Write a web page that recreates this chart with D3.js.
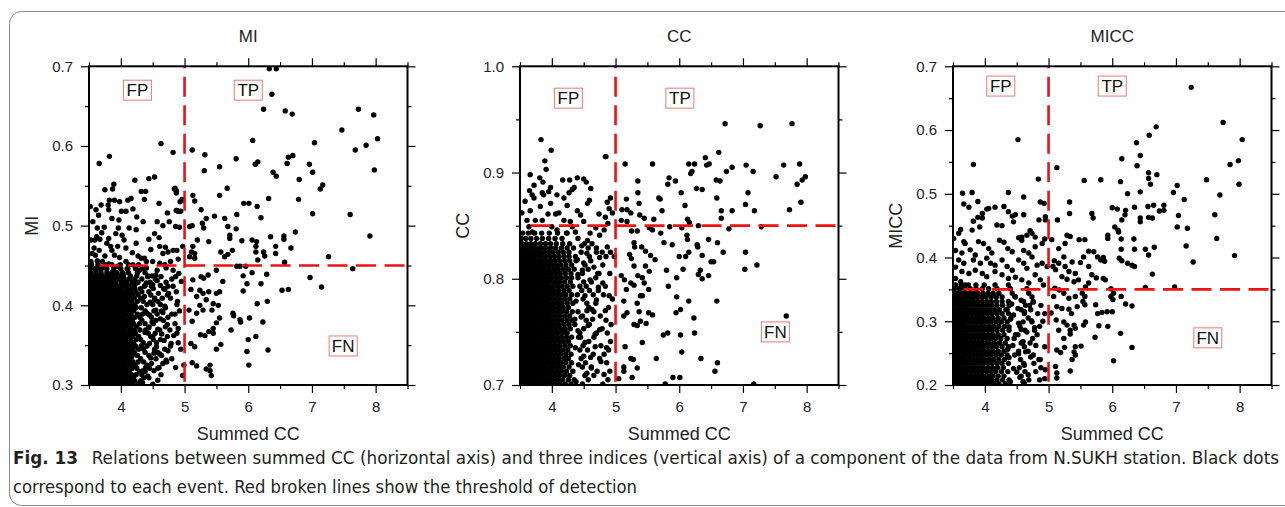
<!DOCTYPE html>
<html><head><meta charset="utf-8">
<script src="https://cdn.jsdelivr.net/npm/d3@7"></script>
<style>body{margin:0;background:#fff}svg{display:block}</style>
</head><body>
<svg id="chart" width="1285" height="507"></svg>
<script>
// ---------------- DATA ----------------
const panelTitles = ["MI", "CC", "MICC"];
const xDomain = [3.5, 8.5];
const xTickValues = [4, 5, 6, 7, 8];
const yDomains = [[0.3, 0.7], [0.7, 1.0], [0.2, 0.7]];
const yTickValues = [[0.3, 0.4, 0.5, 0.6, 0.7], [0.7, 0.8, 0.9, 1.0], [0.2, 0.3, 0.4, 0.5, 0.6, 0.7]];
const thresholdX = 5;
const thresholdY = [0.45, 0.85, 0.35];
const quadrantNames = ["FP", "TP", "FN"];
const quadrantX = [[4.26, 6.0, 7.49], [4.26, 6.01, 7.51], [4.25, 6.0, 7.5]];
const quadrantY = [[0.670, 0.670, 0.349], [0.970, 0.970, 0.750], [0.669, 0.669, 0.274]];

// MI panel: scattered events
const miPoints = [
[6.33,0.697],[6.44,0.697],[6.37,0.665],[6.24,0.646],[6.58,0.644],[6.69,0.640],[7.73,0.646],[7.97,0.639],[7.47,0.620],[8.03,0.609],[7.85,0.601],[7.68,0.595],[7.98,0.570],[7.04,0.604],[6.07,0.607],[5.12,0.595],[5.32,0.589],[4.82,0.592],[4.63,0.603],[3.82,0.587],[3.66,0.578],[5.81,0.584],[5.55,0.574],[5.31,0.569],[6.15,0.580],[6.11,0.577],[6.61,0.578],[6.63,0.586],[6.70,0.588],[6.96,0.577],[7.01,0.567],[6.39,0.567],[6.44,0.562],[6.80,0.558],[7.17,0.551],[7.13,0.546],[5.67,0.547],[5.55,0.538],[5.13,0.538],[5.16,0.531],[4.85,0.547],[4.87,0.544],[4.96,0.533],[4.93,0.530],[4.87,0.519],[4.90,0.518],[5.26,0.520],[6.32,0.534],[6.79,0.533],[5.93,0.528],[6.01,0.528],[6.14,0.524],[5.82,0.514],[6.20,0.510],[7.01,0.515],[7.60,0.514],[7.91,0.487],[5.63,0.509],[5.47,0.512],[5.34,0.509],[5.08,0.499],[5.12,0.500],[5.28,0.503],[5.30,0.497],[5.68,0.499],[5.81,0.496],[5.71,0.488],[5.71,0.484],[5.90,0.481],[6.06,0.482],[6.13,0.480],[6.12,0.474],[6.12,0.467],[6.35,0.486],[6.43,0.474],[6.56,0.487],[6.56,0.483],[6.74,0.492],[6.67,0.472],[6.43,0.465],[6.24,0.467],[6.26,0.462],[7.26,0.461],[6.57,0.454],[5.57,0.467],[5.75,0.469],[5.68,0.464],[5.63,0.461],[5.20,0.482],[5.38,0.480],[5.13,0.474],[5.11,0.467],[5.16,0.465],[5.08,0.461],[5.16,0.459],[6.15,0.457],[5.82,0.449],[5.87,0.449],[5.96,0.449],[7.64,0.446],[5.50,0.444],[5.37,0.438],[5.26,0.436],[5.30,0.434],[5.13,0.432],[5.92,0.437],[6.06,0.441],[6.29,0.439],[6.97,0.435],[7.15,0.423],[5.98,0.427],[6.20,0.427],[5.60,0.430],[6.53,0.419],[6.63,0.420],[5.92,0.418],[5.55,0.417],[5.50,0.415],[5.24,0.419],[5.29,0.415],[5.38,0.417],[5.10,0.420],[5.19,0.411],[5.34,0.407],[5.45,0.402],[5.53,0.400],[5.24,0.400],[6.30,0.405],[6.14,0.402],[5.07,0.394],[5.29,0.394],[5.43,0.394],[5.19,0.390],[5.76,0.390],[5.77,0.387],[5.87,0.382],[5.88,0.379],[6.02,0.384],[5.55,0.384],[5.50,0.378],[5.12,0.380],[6.23,0.379],[5.73,0.369],[5.45,0.371],[5.45,0.365],[5.25,0.363],[5.38,0.367],[5.32,0.362],[6.12,0.361],[6.00,0.357],[5.98,0.342],[6.31,0.344],[5.57,0.351],[5.50,0.345],[5.10,0.352],[5.16,0.348],[6.01,0.325],[5.12,0.328],[5.19,0.324],[5.40,0.325],[5.34,0.320],[5.40,0.318],[5.42,0.312],[4.99,0.325],[4.97,0.312],
[4.22,0.557],[4.44,0.559],[4.53,0.561],[3.89,0.552],[3.87,0.546],[3.75,0.545],[4.32,0.543],[4.39,0.543],[4.37,0.533],[4.84,0.546],[4.87,0.541],[3.69,0.526],[3.61,0.520],[3.65,0.513],[3.82,0.532],[3.90,0.532],[3.98,0.530],[3.80,0.526],[3.81,0.520],[4.11,0.532],[4.16,0.534],[4.08,0.518],[4.01,0.518],[4.19,0.521],[4.25,0.511],[3.86,0.509],[3.97,0.507],[3.52,0.524],[4.60,0.528],[4.73,0.516],[4.88,0.519],[4.97,0.532],[4.94,0.518],[4.57,0.505],[4.86,0.499],[4.92,0.498],[3.74,0.498],[4.24,0.495],[3.62,0.486],[3.59,0.482],[3.67,0.483],[3.53,0.482],[3.81,0.484],[4.02,0.488],[4.05,0.482],[4.44,0.483],[4.60,0.485],[4.24,0.478],[3.84,0.474],[3.86,0.469],[3.95,0.474],[4.08,0.472],[4.61,0.474],[4.70,0.473],[4.66,0.465],[4.74,0.467],[4.82,0.469],[3.60,0.463],[3.55,0.465],[3.90,0.463],[3.98,0.460],[4.32,0.459],[4.37,0.459],[4.40,0.455],[4.88,0.469],[4.97,0.474],[4.50,0.455],[4.61,0.453],[4.69,0.451],[3.71,0.455],[3.81,0.452],[4.08,0.455],[4.19,0.451],[4.71,0.447],[4.82,0.444],[4.91,0.440],[3.51,0.449],[3.61,0.444],[3.72,0.447],[3.87,0.442],[3.95,0.449],[4.29,0.444],[4.40,0.447],[4.42,0.436],[4.55,0.438],[4.63,0.436],[4.86,0.436],[4.95,0.430],[3.53,0.434],[3.67,0.432],[3.77,0.436],[3.98,0.434],[4.14,0.433],[4.24,0.428],[4.37,0.424],[4.50,0.426],[4.74,0.424],[4.82,0.424],
[3.56,0.505],[3.63,0.497],[3.70,0.491],[3.58,0.472],[3.66,0.469],[3.75,0.462],[3.53,0.455],[3.63,0.456],[3.78,0.478],[3.92,0.490],[4.13,0.497],[4.18,0.466],[4.27,0.462],[4.47,0.470],[4.53,0.490],[4.66,0.500],[4.76,0.505],[4.35,0.505],[4.10,0.446],[4.03,0.440],[3.82,0.438],[4.57,0.444],[4.78,0.455],[4.90,0.458],[3.96,0.497],
[4.34,0.303],[4.42,0.311],[4.58,0.306],[4.39,0.322],[4.52,0.318],[4.66,0.327],[4.47,0.334],[4.61,0.339],[4.36,0.345],[4.74,0.343],[4.45,0.352],[4.50,0.361],[4.68,0.356],[4.38,0.366],[4.58,0.370],[4.83,0.362],[4.49,0.379],[4.62,0.383],[4.73,0.376],[4.41,0.390],[4.55,0.394],[4.85,0.389],[4.46,0.404],[4.69,0.399],[4.37,0.411],[4.59,0.415],[4.78,0.409],[4.48,0.424],[4.69,0.420],[4.57,0.431],[4.43,0.437],[4.80,0.433],[4.35,0.318],[4.48,0.327],[4.56,0.348],[4.44,0.372],[4.66,0.391],[4.53,0.407],[4.40,0.428],[4.64,0.364],[4.71,0.331],[4.79,0.352],[4.90,0.371],[4.88,0.401],[4.60,0.322],[4.45,0.388],[4.52,0.340],[4.75,0.415],[4.94,0.345],[4.86,0.322]
];
// MI panel: crowded region, one row per MI level
const miDenseRows = [
[0.301,[3.51,3.55,3.60,3.64,3.69,3.73,3.78,3.83,3.88,3.93,3.99,4.05,4.12,4.18,4.27,4.50]],
[0.305,[3.53,3.57,3.62,3.67,3.71,3.76,3.81,3.86,3.91,3.97,4.03,4.09,4.15,4.22,4.31]],
[0.309,[3.51,3.56,3.60,3.65,3.70,3.74,3.79,3.84,3.90,3.95,4.01,4.07,4.14,4.20,4.36,4.44]],
[0.313,[3.53,3.58,3.62,3.67,3.72,3.77,3.82,3.87,3.92,3.98,4.04,4.11,4.17,4.24,4.33,4.63]],
[0.317,[3.51,3.55,3.60,3.65,3.69,3.74,3.80,3.85,3.89,3.95,4.02,4.08,4.13,4.29,4.38]],
[0.321,[3.52,3.57,3.62,3.66,3.71,3.76,3.82,3.87,3.93,3.99,4.05,4.10,4.18,4.25,4.45,4.58]],
[0.325,[3.51,3.55,3.60,3.64,3.69,3.74,3.79,3.84,3.90,3.96,4.01,4.07,4.15,4.23,4.41]],
[0.329,[3.53,3.58,3.62,3.67,3.72,3.77,3.82,3.88,3.93,3.98,4.04,4.12,4.19,4.27,4.36,4.72]],
[0.333,[3.51,3.56,3.60,3.65,3.70,3.75,3.80,3.85,3.91,3.97,4.02,4.09,4.16,4.31,4.55,4.80]],
[0.337,[3.52,3.57,3.62,3.66,3.71,3.76,3.81,3.87,3.92,3.99,4.05,4.11,4.18,4.26,4.44,4.64]],
[0.341,[3.51,3.55,3.60,3.64,3.69,3.74,3.79,3.84,3.89,3.95,4.01,4.08,4.14,4.21,4.38,4.58]],
[0.345,[3.53,3.58,3.62,3.67,3.72,3.78,3.83,3.88,3.94,4.00,4.06,4.12,4.19,4.28,4.53,4.69]],
[0.349,[3.51,3.56,3.60,3.65,3.70,3.75,3.80,3.86,3.91,3.97,4.03,4.10,4.16,4.23,4.32,4.41,4.78]],
[0.353,[3.52,3.57,3.62,3.66,3.71,3.76,3.82,3.87,3.93,3.99,4.05,4.12,4.20,4.35,4.56,4.90]],
[0.357,[3.51,3.55,3.60,3.64,3.69,3.74,3.79,3.84,3.90,3.96,4.02,4.08,4.15,4.24,4.31,4.51,4.62]],
[0.361,[3.53,3.58,3.62,3.67,3.72,3.77,3.82,3.88,3.94,4.00,4.07,4.13,4.19,4.28,4.47,4.73]],
[0.365,[3.51,3.56,3.60,3.65,3.70,3.75,3.81,3.86,3.91,3.97,4.04,4.11,4.17,4.23,4.43,4.54,4.88]],
[0.369,[3.52,3.57,3.62,3.66,3.71,3.76,3.82,3.88,3.93,3.99,4.06,4.14,4.21,4.30,4.39,4.61,4.77]],
[0.373,[3.51,3.55,3.60,3.64,3.69,3.74,3.80,3.85,3.90,3.96,4.02,4.09,4.16,4.25,4.44,4.70]],
[0.377,[3.53,3.58,3.62,3.67,3.72,3.77,3.83,3.88,3.94,4.00,4.07,4.13,4.20,4.29,4.38,4.51,4.85]],
[0.381,[3.51,3.56,3.60,3.65,3.70,3.75,3.80,3.86,3.92,3.98,4.04,4.11,4.18,4.33,4.55,4.67]],
[0.385,[3.52,3.57,3.62,3.66,3.71,3.77,3.82,3.87,3.93,3.99,4.06,4.14,4.22,4.30,4.48,4.74]],
[0.389,[3.51,3.55,3.60,3.64,3.69,3.74,3.79,3.85,3.90,3.96,4.02,4.09,4.16,4.26,4.34,4.57,4.80]],
[0.393,[3.53,3.58,3.62,3.67,3.72,3.78,3.83,3.89,3.95,4.01,4.08,4.13,4.20,4.38,4.52,4.64,4.92]],
[0.397,[3.51,3.56,3.60,3.65,3.70,3.75,3.81,3.86,3.92,3.98,4.04,4.11,4.18,4.24,4.32,4.70]],
[0.401,[3.52,3.57,3.62,3.66,3.71,3.77,3.82,3.88,3.94,4.00,4.07,4.15,4.22,4.41,4.50,4.62]],
[0.405,[3.51,3.55,3.60,3.64,3.69,3.74,3.80,3.85,3.91,3.97,4.03,4.10,4.17,4.26,4.35,4.58,4.89]],
[0.409,[3.53,3.58,3.62,3.67,3.72,3.78,3.84,3.89,3.95,4.02,4.08,4.14,4.21,4.31,4.53,4.65]],
[0.413,[3.51,3.56,3.60,3.65,3.70,3.76,3.81,3.87,3.93,3.99,4.05,4.12,4.19,4.27,4.47,4.73]],
[0.417,[3.52,3.57,3.62,3.67,3.72,3.78,3.84,3.90,3.96,4.03,4.10,4.16,4.24,4.33,4.44,4.87]],
[0.421,[3.51,3.55,3.60,3.65,3.70,3.76,3.82,3.88,3.94,4.00,4.08,4.15,4.22,4.31,4.51,4.67]],
[0.425,[3.53,3.58,3.63,3.68,3.74,3.80,3.86,3.93,3.99,4.06,4.13,4.21,4.38,4.62]],
[0.429,[3.51,3.56,3.61,3.66,3.72,3.79,3.85,3.92,4.01,4.09,4.18,4.27,4.46,4.71]],
[0.433,[3.52,3.57,3.63,3.69,3.75,3.82,3.90,3.97,4.05,4.13,4.22,4.33,4.54]],
[0.437,[3.51,3.58,3.64,3.71,3.79,3.88,3.96,4.04,4.15,4.25,4.49]],
[0.441,[3.53,3.61,3.69,3.78,3.86,3.94,4.03,4.12,4.26,4.38]],
[0.446,[3.52,3.60,3.68,3.78,3.89,4.00,4.11,4.23,4.34]],
[0.451,[3.54,3.64,3.76,3.86,3.99,4.12,4.28]]
];

// CC panel: scattered events
const ccPoints = [
[6.72,0.946],[7.27,0.944],[7.77,0.946],[6.62,0.919],[6.41,0.914],[6.47,0.908],[6.43,0.907],[6.15,0.908],[6.24,0.908],[6.20,0.901],[6.18,0.899],[6.74,0.901],[6.83,0.905],[7.05,0.907],[7.16,0.901],[7.64,0.907],[7.89,0.908],[7.52,0.896],[7.98,0.896],[7.93,0.893],[7.85,0.889],[7.91,0.872],[7.73,0.865],[7.08,0.881],[7.04,0.870],[7.18,0.864],[6.83,0.864],[6.66,0.864],[6.66,0.857],[6.78,0.847],[7.29,0.849],[6.58,0.893],[6.64,0.892],[6.59,0.876],[6.27,0.885],[6.36,0.884],[6.03,0.881],[6.09,0.869],[5.84,0.895],[5.94,0.892],[5.82,0.889],[5.68,0.876],[5.70,0.875],[5.73,0.864],[5.58,0.908],[5.15,0.908],[4.85,0.915],[5.35,0.892],[5.35,0.881],[5.37,0.871],[5.17,0.875],[5.10,0.865],[5.18,0.865],[5.24,0.862],[5.60,0.856],[5.45,0.857],[5.38,0.860],[5.09,0.855],[5.18,0.854],[5.25,0.845],[5.34,0.845],[5.53,0.848],[5.58,0.846],[5.71,0.843],[5.85,0.849],[6.13,0.856],[6.16,0.853],[6.30,0.850],[6.04,0.848],[6.12,0.841],[6.13,0.837],[6.46,0.837],[6.28,0.832],[6.29,0.830],[6.60,0.834],[6.69,0.825],[7.04,0.825],[7.03,0.809],[7.22,0.813],[6.36,0.822],[6.50,0.816],[6.54,0.816],[6.33,0.808],[6.30,0.804],[6.46,0.803],[6.36,0.800],[5.89,0.832],[5.76,0.834],[6.00,0.821],[6.15,0.825],[6.10,0.821],[6.06,0.809],[5.96,0.801],[5.80,0.808],[5.62,0.818],[5.55,0.822],[5.47,0.826],[5.41,0.830],[5.29,0.834],[5.30,0.830],[5.22,0.823],[5.25,0.819],[5.47,0.812],[5.53,0.807],[5.29,0.812],[5.35,0.803],[5.42,0.801],[5.09,0.803],[5.14,0.799],[5.24,0.796],[5.29,0.794],[5.45,0.796],[5.52,0.790],[5.39,0.784],[5.42,0.784],[5.83,0.793],[5.96,0.783],[6.15,0.779],[6.59,0.779],[6.02,0.771],[5.95,0.768],[6.23,0.763],[5.17,0.790],[5.13,0.779],[5.34,0.777],[5.37,0.769],[5.18,0.768],[5.13,0.765],[5.52,0.768],[5.58,0.766],[5.29,0.757],[5.34,0.756],[5.39,0.760],[5.48,0.758],[5.75,0.747],[5.82,0.749],[6.02,0.747],[6.24,0.749],[6.04,0.731],[5.64,0.725],[5.15,0.736],[5.42,0.740],[5.24,0.725],[5.28,0.724],[5.34,0.716],[5.26,0.707],[5.13,0.717],[5.13,0.713],[5.05,0.706],[6.34,0.725],[6.60,0.721],[6.56,0.713],[5.90,0.707],[6.01,0.707],[5.78,0.701],[7.17,0.701],[7.68,0.765],
[3.83,0.931],[3.99,0.921],[4.84,0.915],[3.89,0.911],[3.91,0.903],[3.66,0.898],[3.81,0.895],[3.86,0.891],[3.98,0.886],[4.17,0.893],[4.40,0.895],[4.50,0.894],[4.54,0.891],[4.35,0.886],[4.32,0.884],[4.27,0.881],[4.19,0.876],[4.08,0.879],[4.61,0.885],[3.65,0.883],[3.72,0.876],[3.69,0.879],[3.58,0.873],[3.85,0.881],[3.87,0.879],[3.82,0.868],[3.98,0.871],[3.66,0.864],[3.53,0.862],[3.94,0.861],[4.06,0.861],[4.11,0.862],[4.24,0.869],[4.40,0.864],[4.59,0.874],[4.56,0.871],[4.74,0.861],[4.90,0.866],[4.92,0.876],[4.84,0.858],[3.61,0.855],[3.74,0.855],[3.85,0.855],[4.45,0.860],[4.50,0.854],[4.19,0.855],[4.29,0.854],[3.64,0.849],[3.69,0.844],[4.00,0.849],[4.08,0.846],[4.32,0.849],[4.24,0.843],[4.37,0.844],[4.69,0.848],[4.82,0.846],[4.75,0.841],[4.56,0.836],[4.63,0.833],[4.70,0.829],[4.79,0.825],[4.87,0.830],[4.92,0.825],[4.98,0.821],
[4.60,0.843],[4.88,0.852],[4.95,0.862],[4.87,0.872],[4.28,0.893],[3.72,0.888],[3.95,0.882],
[4.38,0.703],[4.55,0.711],[4.42,0.719],[4.61,0.726],[4.37,0.735],[4.52,0.740],[4.68,0.736],[4.41,0.751],[4.57,0.756],[4.75,0.752],[4.46,0.764],[4.63,0.771],[4.38,0.779],[4.52,0.784],[4.70,0.780],[4.44,0.793],[4.60,0.799],[4.80,0.796],[4.48,0.808],[4.66,0.811],[4.40,0.818],[4.55,0.824],[4.75,0.820],[4.47,0.831],[4.62,0.716],[4.77,0.722],[4.50,0.727],[4.45,0.745],[4.64,0.762],[4.84,0.770],[4.59,0.789],[4.41,0.804],[4.72,0.805],[4.86,0.735],[4.90,0.784],[4.55,0.770],[4.68,0.748],[4.36,0.762],[4.50,0.815],[4.82,0.710],[4.93,0.757],[4.73,0.792]
];
// CC panel: crowded region, one row per CC level
const ccDenseRows = [
[0.701,[3.51,3.56,3.61,3.66,3.71,3.76,3.81,3.87,3.93,3.99,4.06,4.13,4.21,4.30,4.48,4.80]],
[0.705,[3.53,3.58,3.63,3.68,3.73,3.78,3.84,3.90,3.96,4.02,4.09,4.17,4.26,4.35,4.57,4.88]],
[0.709,[3.51,3.56,3.60,3.65,3.70,3.75,3.80,3.86,3.92,3.98,4.05,4.12,4.20,4.28,4.52,4.66]],
[0.713,[3.52,3.57,3.62,3.67,3.72,3.77,3.83,3.89,3.95,4.01,4.08,4.15,4.23,4.33,4.71,4.91]],
[0.717,[3.51,3.55,3.60,3.65,3.70,3.75,3.81,3.86,3.92,3.98,4.04,4.11,4.18,4.27,4.48,4.62]],
[0.721,[3.53,3.58,3.62,3.67,3.72,3.78,3.83,3.89,3.95,4.01,4.08,4.14,4.22,4.31,4.53,4.86]],
[0.725,[3.51,3.56,3.60,3.65,3.70,3.75,3.80,3.86,3.92,3.97,4.04,4.11,4.19,4.26,4.46,4.75]],
[0.729,[3.52,3.57,3.62,3.67,3.72,3.77,3.83,3.88,3.94,4.00,4.07,4.14,4.22,4.30,4.65,4.82]],
[0.733,[3.51,3.55,3.60,3.65,3.69,3.74,3.80,3.85,3.91,3.97,4.03,4.10,4.17,4.25,4.44,4.56,4.89]],
[0.737,[3.53,3.58,3.62,3.67,3.72,3.77,3.82,3.88,3.94,4.00,4.06,4.13,4.21,4.29,4.49,4.77]],
[0.741,[3.51,3.56,3.60,3.65,3.70,3.75,3.80,3.86,3.91,3.97,4.04,4.11,4.18,4.26,4.58,4.92]],
[0.745,[3.52,3.57,3.62,3.67,3.72,3.77,3.83,3.89,3.95,4.01,4.08,4.15,4.23,4.31,4.42,4.66]],
[0.749,[3.51,3.55,3.60,3.65,3.70,3.75,3.80,3.85,3.91,3.97,4.03,4.10,4.17,4.24,4.44,4.70,4.87]],
[0.753,[3.53,3.58,3.62,3.67,3.72,3.77,3.83,3.88,3.94,4.00,4.07,4.14,4.21,4.29,4.50,4.79]],
[0.757,[3.51,3.56,3.60,3.65,3.70,3.75,3.81,3.86,3.92,3.98,4.04,4.11,4.19,4.27,4.36,4.59]],
[0.761,[3.52,3.57,3.62,3.67,3.72,3.78,3.83,3.89,3.95,4.02,4.09,4.16,4.24,4.32,4.54,4.85]],
[0.765,[3.51,3.55,3.60,3.65,3.70,3.75,3.80,3.86,3.92,3.98,4.05,4.12,4.20,4.28,4.48,4.76]],
[0.769,[3.53,3.58,3.62,3.67,3.72,3.77,3.83,3.89,3.95,4.01,4.08,4.15,4.23,4.32,4.41,4.66]],
[0.773,[3.51,3.56,3.60,3.65,3.70,3.75,3.81,3.86,3.92,3.98,4.04,4.11,4.18,4.26,4.58,4.89]],
[0.777,[3.52,3.57,3.62,3.67,3.72,3.78,3.83,3.89,3.95,4.02,4.09,4.16,4.24,4.33,4.55,4.69]],
[0.781,[3.51,3.55,3.60,3.65,3.70,3.75,3.80,3.86,3.92,3.98,4.05,4.12,4.20,4.28,4.49,4.95]],
[0.785,[3.53,3.58,3.62,3.67,3.72,3.77,3.83,3.89,3.95,4.01,4.08,4.15,4.22,4.31,4.40,4.65,4.81]],
[0.789,[3.51,3.56,3.60,3.65,3.70,3.75,3.81,3.86,3.92,3.98,4.04,4.11,4.19,4.27,4.47,4.73]],
[0.793,[3.52,3.57,3.62,3.67,3.72,3.78,3.83,3.89,3.95,4.02,4.09,4.16,4.24,4.33,4.54,4.84]],
[0.797,[3.51,3.55,3.60,3.65,3.70,3.75,3.80,3.86,3.92,3.98,4.05,4.12,4.20,4.29,4.50,4.62]],
[0.801,[3.53,3.58,3.62,3.67,3.72,3.77,3.83,3.89,3.95,4.01,4.08,4.15,4.23,4.31,4.41,4.69]],
[0.805,[3.51,3.56,3.60,3.65,3.70,3.75,3.81,3.87,3.93,3.99,4.06,4.13,4.21,4.30,4.48,4.74,4.91]],
[0.809,[3.52,3.57,3.62,3.67,3.72,3.78,3.84,3.90,3.96,4.03,4.10,4.18,4.26,4.35,4.57]],
[0.813,[3.51,3.55,3.60,3.65,3.70,3.76,3.82,3.88,3.94,4.00,4.07,4.14,4.22,4.31,4.52,4.80]],
[0.817,[3.53,3.58,3.63,3.68,3.73,3.79,3.85,3.91,3.98,4.05,4.12,4.20,4.28,4.38,4.61]],
[0.821,[3.51,3.56,3.61,3.66,3.72,3.78,3.84,3.90,3.97,4.04,4.11,4.19,4.27,4.37,4.59,4.85]],
[0.825,[3.52,3.58,3.63,3.69,3.75,3.81,3.88,3.95,4.02,4.10,4.18,4.27,4.46,4.70]],
[0.829,[3.51,3.57,3.63,3.69,3.76,3.83,3.90,3.98,4.06,4.15,4.24,4.34,4.57]],
[0.833,[3.53,3.60,3.67,3.74,3.82,3.90,3.98,4.07,4.17,4.28,4.51]],
[0.838,[3.52,3.59,3.67,3.76,3.85,3.95,4.05,4.16,4.41]],
[0.843,[3.54,3.63,3.73,3.84,3.96,4.09,4.23]]
];

// MICC panel: scattered events
const miccPoints = [
[7.24,0.667],[7.74,0.612],[8.04,0.585],[6.69,0.605],[6.58,0.592],[6.38,0.580],[6.44,0.560],[6.39,0.544],[6.15,0.555],[7.98,0.552],[7.85,0.546],[7.99,0.515],[7.48,0.522],[7.02,0.513],[6.96,0.502],[7.13,0.491],[7.69,0.498],[7.61,0.467],[7.64,0.430],[7.92,0.403],[7.04,0.466],[7.02,0.448],[7.18,0.446],[7.16,0.418],[7.27,0.393],[6.98,0.354],[6.57,0.533],[6.57,0.524],[6.60,0.515],[6.70,0.530],[6.44,0.503],[6.24,0.500],[6.13,0.519],[5.56,0.521],[5.82,0.522],[5.13,0.541],[4.84,0.523],[4.52,0.585],[3.82,0.546],[6.56,0.480],[6.65,0.482],[6.81,0.482],[6.74,0.473],[6.81,0.474],[6.35,0.479],[6.44,0.462],[6.44,0.456],[6.57,0.463],[6.63,0.462],[6.21,0.474],[6.20,0.467],[6.15,0.459],[6.00,0.478],[6.08,0.476],[6.04,0.448],[5.93,0.430],[6.09,0.443],[6.10,0.440],[6.14,0.429],[5.93,0.435],[6.34,0.429],[6.35,0.413],[6.14,0.413],[6.11,0.399],[6.15,0.395],[6.24,0.391],[6.31,0.388],[6.35,0.386],[6.52,0.413],[6.57,0.404],[6.66,0.416],[6.63,0.374],[6.52,0.353],[5.68,0.469],[5.70,0.462],[5.33,0.487],[5.33,0.469],[5.14,0.459],[4.95,0.459],[4.87,0.487],[4.93,0.485],[5.48,0.428],[5.57,0.428],[5.63,0.410],[5.71,0.409],[5.55,0.401],[5.86,0.400],[5.88,0.394],[5.77,0.401],[5.82,0.396],[5.29,0.435],[5.34,0.433],[5.26,0.422],[5.05,0.428],[5.16,0.414],[5.09,0.395],[5.16,0.391],[5.24,0.401],[5.37,0.393],[5.50,0.392],[5.63,0.386],[5.07,0.386],[5.11,0.381],[5.26,0.386],[5.32,0.378],[5.42,0.375],[5.21,0.370],[5.29,0.366],[5.40,0.362],[5.47,0.365],[5.68,0.373],[5.75,0.368],[5.86,0.367],[5.89,0.365],[5.63,0.360],[5.58,0.354],[5.10,0.352],[5.17,0.349],[5.24,0.344],[5.08,0.339],[5.32,0.336],[5.42,0.339],[5.53,0.344],[5.57,0.339],[5.98,0.351],[6.02,0.344],[5.98,0.339],[6.14,0.339],[6.01,0.334],[6.21,0.327],[6.31,0.324],[5.54,0.331],[5.57,0.326],[5.45,0.323],[5.74,0.326],[5.13,0.323],[5.21,0.320],[5.04,0.313],[5.32,0.319],[5.36,0.312],[5.12,0.302],[5.77,0.312],[5.84,0.314],[5.92,0.315],[6.00,0.315],[5.79,0.293],[5.93,0.292],[5.58,0.299],[5.55,0.294],[5.40,0.294],[5.24,0.299],[5.29,0.294],[5.16,0.286],[5.34,0.286],[5.42,0.289],[6.13,0.281],[5.34,0.280],[5.24,0.273],[5.73,0.275],[6.31,0.259],[5.42,0.260],[5.13,0.255],[5.19,0.251],[5.25,0.259],[5.40,0.252],[5.42,0.247],[5.51,0.261],[6.02,0.238],[5.37,0.240],[5.11,0.229],[5.13,0.219],[5.34,0.222],[4.95,0.224],[4.94,0.210],[5.13,0.211],
[4.37,0.502],[3.65,0.501],[3.80,0.502],[3.67,0.484],[3.75,0.479],[3.89,0.488],[3.62,0.444],[3.96,0.469],[4.03,0.476],[4.06,0.477],[3.89,0.463],[3.96,0.462],[3.82,0.457],[3.80,0.443],[3.92,0.448],[4.16,0.479],[4.19,0.451],[4.27,0.450],[4.30,0.480],[4.43,0.465],[4.48,0.467],[4.37,0.472],[4.45,0.456],[4.61,0.495],[4.61,0.467],[4.85,0.459],[4.95,0.464],[4.71,0.442],[4.74,0.438],[4.79,0.432],[4.58,0.432],[4.66,0.435],[4.90,0.422],[4.94,0.429],[4.79,0.417],[3.51,0.430],[3.59,0.438],[3.67,0.425],[3.54,0.411],[3.69,0.422],[3.90,0.425],[3.98,0.422],[4.06,0.414],[4.11,0.407],[4.23,0.427],[4.30,0.424],[4.36,0.414],[4.43,0.409],[4.53,0.431],[4.58,0.427],[4.61,0.411],[4.69,0.407],[3.64,0.407],[3.77,0.412],[3.85,0.404],[3.59,0.396],[3.67,0.391],[3.82,0.396],[3.93,0.391],[4.03,0.399],[4.09,0.391],[4.16,0.388],[4.27,0.396],[4.35,0.386],[4.43,0.380],[4.53,0.396],[4.61,0.391],[4.66,0.383],[4.74,0.401],[4.82,0.388],[4.90,0.391],[4.98,0.386],
[3.54,0.385],[3.64,0.378],[3.75,0.375],[3.85,0.380],[3.96,0.375],[4.03,0.370],[4.16,0.378],[4.27,0.373],[4.37,0.367],[4.48,0.369],[4.58,0.365],[4.69,0.360],[4.79,0.373],[4.87,0.365],[4.92,0.357],[3.54,0.367],[3.62,0.362],[3.69,0.357],
[4.40,0.205],[4.55,0.212],[4.45,0.226],[4.62,0.231],[4.38,0.243],[4.53,0.249],[4.72,0.244],[4.44,0.262],[4.60,0.268],[4.80,0.262],[4.48,0.279],[4.66,0.283],[4.38,0.291],[4.53,0.297],[4.73,0.301],[4.45,0.310],[4.62,0.315],[4.83,0.312],[4.42,0.327],[4.57,0.333],[4.70,0.325],[4.50,0.220],[4.68,0.216],[4.36,0.256],[4.57,0.287],[4.40,0.303],[4.52,0.320],[4.78,0.290],[4.87,0.240],[4.64,0.252],[4.91,0.300],[4.47,0.339],[4.35,0.318],[4.76,0.330],[4.60,0.205],[4.88,0.325]
];
// MICC panel: crowded region, one row per MICC level
const miccDenseRows = [
[0.202,[3.51,3.56,3.61,3.66,3.71,3.76,3.82,3.88,3.94,4.00,4.07,4.14,4.22,4.32,4.62]],
[0.208,[3.53,3.58,3.63,3.68,3.73,3.79,3.85,3.91,3.97,4.04,4.11,4.19,4.28,4.38,4.69,4.86]],
[0.214,[3.51,3.56,3.60,3.65,3.70,3.75,3.81,3.87,3.93,3.99,4.06,4.13,4.21,4.30,4.57]],
[0.221,[3.52,3.57,3.62,3.67,3.72,3.78,3.84,3.90,3.96,4.03,4.10,4.17,4.26,4.36,4.63,4.80]],
[0.227,[3.51,3.55,3.60,3.65,3.70,3.75,3.80,3.86,3.92,3.98,4.05,4.12,4.20,4.29,4.54,4.88]],
[0.234,[3.53,3.58,3.63,3.68,3.73,3.79,3.85,3.91,3.97,4.04,4.11,4.19,4.27,4.37,4.61,4.77]],
[0.240,[3.51,3.56,3.60,3.65,3.70,3.76,3.82,3.88,3.94,4.00,4.07,4.14,4.22,4.31,4.56,4.85]],
[0.247,[3.52,3.57,3.62,3.67,3.72,3.78,3.84,3.90,3.96,4.03,4.10,4.18,4.26,4.35,4.47,4.76]],
[0.253,[3.51,3.55,3.60,3.65,3.70,3.75,3.81,3.87,3.93,3.99,4.06,4.13,4.21,4.30,4.53,4.68]],
[0.260,[3.53,3.58,3.63,3.68,3.73,3.79,3.85,3.91,3.97,4.04,4.11,4.18,4.27,4.37,4.62,4.94]],
[0.266,[3.51,3.56,3.60,3.65,3.70,3.76,3.82,3.88,3.94,4.00,4.07,4.15,4.23,4.32,4.57,4.71]],
[0.273,[3.52,3.57,3.62,3.67,3.72,3.78,3.84,3.90,3.96,4.03,4.10,4.17,4.25,4.35,4.46,4.75]],
[0.279,[3.51,3.55,3.60,3.65,3.70,3.75,3.81,3.87,3.93,3.99,4.06,4.13,4.21,4.30,4.52,4.82]],
[0.286,[3.53,3.58,3.63,3.68,3.73,3.79,3.85,3.91,3.97,4.04,4.11,4.19,4.28,4.38,4.63,4.78]],
[0.292,[3.51,3.56,3.60,3.65,3.70,3.76,3.82,3.88,3.94,4.00,4.07,4.14,4.22,4.31,4.55,4.86]],
[0.299,[3.52,3.57,3.62,3.67,3.72,3.78,3.84,3.90,3.96,4.03,4.10,4.18,4.26,4.35,4.60,4.74]],
[0.305,[3.51,3.55,3.60,3.65,3.70,3.75,3.81,3.87,3.93,3.99,4.06,4.13,4.21,4.30,4.41,4.68]],
[0.312,[3.53,3.58,3.63,3.68,3.73,3.79,3.85,3.91,3.97,4.04,4.11,4.19,4.27,4.37,4.62,4.94]],
[0.318,[3.51,3.56,3.60,3.65,3.70,3.76,3.82,3.88,3.94,4.01,4.08,4.15,4.23,4.33,4.57,4.72]],
[0.325,[3.52,3.57,3.62,3.67,3.72,3.78,3.84,3.90,3.97,4.04,4.11,4.19,4.28,4.38,4.64]],
[0.331,[3.51,3.56,3.61,3.66,3.71,3.77,3.83,3.89,3.96,4.03,4.10,4.18,4.27,4.37,4.61,4.76]],
[0.338,[3.53,3.58,3.63,3.69,3.75,3.81,3.88,3.95,4.02,4.10,4.18,4.27,4.48,4.74]],
[0.344,[3.51,3.57,3.63,3.69,3.75,3.82,3.89,3.97,4.05,4.13,4.22,4.43,4.69]],
[0.351,[3.52,3.60,3.68,3.77,3.86,3.96,4.06,4.19,4.40,4.66]],
[0.357,[3.54,3.63,3.74,3.86,3.99,4.16,4.37]]
];

const xLabel = "Summed CC";
const captionBold = "Fig. 13";
const captionLine1 = "Relations between summed CC (horizontal axis) and three indices (vertical axis) of a component of the data from N.SUKH station. Black dots";
const captionLine2 = "correspond to each event. Red broken lines show the threshold of detection";

// ---------------- DRAW ----------------
const svg = d3.select("#chart");
const FONT = "'Liberation Sans', Arial, Helvetica, sans-serif";

svg.append("rect").attr("x", 9.5).attr("y", 11.5).attr("width", 1330).attr("height", 494)
  .attr("rx", 12).attr("fill", "none").attr("stroke", "#8a8a8a").attr("stroke-width", 1);

const expand = (pts, rows) => pts.concat(rows.flatMap(([yv, xs]) => xs.map(xv => [xv, yv])));
const allPoints = [expand(miPoints, miDenseRows), expand(ccPoints, ccDenseRows), expand(miccPoints, miccDenseRows)];

const panelLeft = [89, 520, 953];
const plotTop = 66.3, pw = 318.5, ph = 318.7;

panelTitles.forEach((title, i) => {
  const g = svg.append("g").attr("transform", `translate(${panelLeft[i]},${plotTop})`);
  const x = d3.scaleLinear().domain(xDomain).range([0, pw]);
  const y = d3.scaleLinear().domain(yDomains[i]).range([ph, 0]);
  const [y0, y1] = yDomains[i];

  const xMinor = d3.range(0, 11).map(k => xDomain[0] + k * 0.5).filter(v => Math.abs(v - Math.round(v)) > 1e-6);
  const nY = Math.round((y1 - y0) / 0.05);
  const yMinor = d3.range(0, nY + 1).map(k => +(y0 + k * 0.05).toFixed(3)).filter(v => Math.abs(v * 10 - Math.round(v * 10)) > 1e-6);

  const clipId = "clip" + i;
  g.append("clipPath").attr("id", clipId).append("rect").attr("width", pw).attr("height", ph);

  g.append("g").attr("clip-path", `url(#${clipId})`)
    .selectAll("circle").data(allPoints[i]).join("circle")
    .attr("cx", d => x(d[0])).attr("cy", d => y(d[1])).attr("r", 2.7).attr("fill", "#000");

  const red = "#ee1111";
  g.append("line").attr("x1", x(thresholdX)).attr("x2", x(thresholdX)).attr("y1", 0).attr("y2", ph)
    .attr("stroke", red).attr("stroke-width", 2.6).attr("stroke-dasharray", "20,8.5").attr("stroke-dashoffset", 18);
  g.append("line").attr("x1", 10.5).attr("x2", pw).attr("y1", y(thresholdY[i])).attr("y2", y(thresholdY[i]))
    .attr("stroke", red).attr("stroke-width", 2.6).attr("stroke-dasharray", "20,8.5");

  const styleAxis = (sel, labels) => {
    sel.select(".domain").remove();
    sel.selectAll(".tick line").attr("stroke", "#000").attr("stroke-width", 1.2);
    sel.attr("font-family", FONT).attr("font-size", 15);
    if (labels) sel.selectAll(".tick text").attr("fill", "#222");
  };
  const fmt = d3.format(".1f");
  g.append("g").attr("transform", `translate(0,${ph})`)
    .call(d3.axisBottom(x).tickValues(xTickValues).tickSize(8).tickPadding(8).tickFormat(d3.format("d")))
    .call(s => styleAxis(s, true));
  g.append("g").attr("transform", `translate(0,${ph})`)
    .call(d3.axisBottom(x).tickValues(xMinor).tickSize(4).tickFormat(""))
    .call(s => styleAxis(s, false));
  g.append("g").call(d3.axisTop(x).tickValues(xTickValues).tickSize(8).tickFormat("")).call(s => styleAxis(s, false));
  g.append("g").call(d3.axisTop(x).tickValues(xMinor).tickSize(4).tickFormat("")).call(s => styleAxis(s, false));
  g.append("g").call(d3.axisLeft(y).tickValues(yTickValues[i]).tickSize(8).tickPadding(8).tickFormat(fmt))
    .call(s => styleAxis(s, true));
  g.append("g").call(d3.axisLeft(y).tickValues(yMinor).tickSize(4).tickFormat("")).call(s => styleAxis(s, false));
  g.append("g").attr("transform", `translate(${pw},0)`)
    .call(d3.axisRight(y).tickValues(yTickValues[i]).tickSize(8).tickFormat("")).call(s => styleAxis(s, false));
  g.append("g").attr("transform", `translate(${pw},0)`)
    .call(d3.axisRight(y).tickValues(yMinor).tickSize(4).tickFormat("")).call(s => styleAxis(s, false));

  g.append("rect").attr("width", pw).attr("height", ph).attr("fill", "none").attr("stroke", "#000").attr("stroke-width", 2);

  quadrantNames.forEach((name, k) => {
    const lg = g.append("g").attr("transform", `translate(${x(quadrantX[i][k])},${y(quadrantY[i][k])})`);
    lg.append("rect").attr("x", -14).attr("y", -10).attr("width", 28).attr("height", 20)
      .attr("fill", "#fff").attr("stroke", "#e87a7a").attr("stroke-width", 1);
    lg.append("text").text(name).attr("text-anchor", "middle").attr("dy", "0.36em")
      .attr("font-family", FONT).attr("font-size", 17).attr("fill", "#111");
  });

  g.append("text").attr("x", pw / 2).attr("y", 41.5 - plotTop).attr("text-anchor", "middle")
    .attr("font-family", FONT).attr("font-size", 17).attr("fill", "#222").text(title);
  g.append("text").attr("x", pw / 2).attr("y", 440 - plotTop).attr("text-anchor", "middle")
    .attr("font-family", FONT).attr("font-size", 18).attr("fill", "#222").text(xLabel);
  g.append("text").attr("transform", `translate(-51,${ph / 2}) rotate(-90)`).attr("text-anchor", "middle")
    .attr("font-family", FONT).attr("font-size", 18).attr("fill", "#222").text(title);
});

const CAPFONT = "'Liberation Sans Narrow', 'DejaVu Sans Condensed', 'Roboto Condensed', 'Arial Narrow', sans-serif";
const c1 = svg.append("text").attr("x", 13).attr("y", 464).attr("font-family", CAPFONT).attr("font-size", 18)
  .attr("fill", "#231f20").attr("textLength", 1266).attr("lengthAdjust", "spacingAndGlyphs");
c1.append("tspan").attr("font-weight", "bold").text(captionBold);
c1.append("tspan").text("\u2002 " + captionLine1);
svg.append("text").attr("x", 13).attr("y", 493).attr("font-family", CAPFONT).attr("font-size", 18)
  .attr("fill", "#231f20").attr("textLength", 624).attr("lengthAdjust", "spacingAndGlyphs").text(captionLine2);
</script>
</body></html>
